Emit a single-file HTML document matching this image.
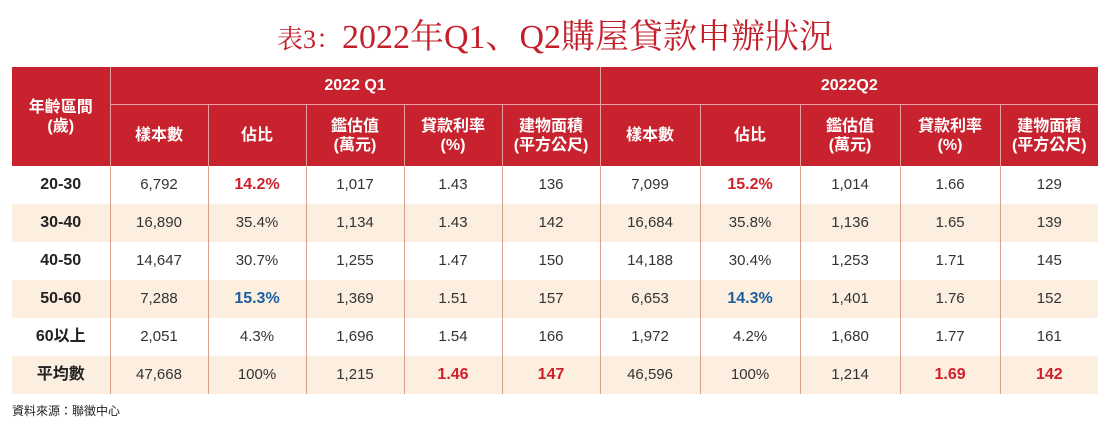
<!DOCTYPE html>
<html><head><meta charset="utf-8">
<style>
body{margin:0;width:1110px;height:430px;background:#fff;position:relative;overflow:hidden;font-family:"Liberation Sans","Noto Sans CJK TC",sans-serif;}
.title{position:absolute;left:0;width:1110px;top:16px;text-align:center;color:#c3202b;font-family:"Liberation Serif","Noto Serif CJK SC",serif;font-size:34px;line-height:44px;}
.title small{font-size:26px;}
table{position:absolute;left:12px;top:67px;border-collapse:collapse;table-layout:fixed;width:1086px;}
th{background:#c8222e;color:#fff;font-weight:bold;font-size:16px;line-height:19px;border-left:1px solid #e8a0a0;padding:0;vertical-align:middle;}
th.top{height:37px;border-bottom:1px solid #e8a0a0;}
th.sub{height:61px;}
td{height:38px;padding:0;text-align:center;font-size:15px;line-height:20px;color:#333;border-left:1px solid #d9a18b;vertical-align:middle;}
td.lab{font-weight:bold;font-size:16px;color:#222;border-left:none;}
tr.alt td{background:#fcefe0;}
.r{color:#d0202c;font-weight:bold;font-size:16px;}
.b{color:#1f5fa0;font-weight:bold;font-size:16px;}
.src{position:absolute;left:12px;top:402px;font-size:12px;color:#222;}
</style></head><body>
<div class="title"><small>表3：</small>2022年Q1、Q2購屋貸款申辦狀況</div>
<table>
<colgroup><col style="width:98px"><col style="width:98px"><col style="width:98px"><col style="width:98px"><col style="width:98px"><col style="width:98px"><col style="width:100px"><col style="width:100px"><col style="width:100px"><col style="width:100px"><col style="width:98px"></colgroup>
<tr><th rowspan="2" style="border-left:none">年齡區間<br>(歲)</th><th colspan="5" class="top">2022 Q1</th><th colspan="5" class="top">2022Q2</th></tr>
<tr>
<th class="sub">樣本數</th><th class="sub">佔比</th><th class="sub">鑑估值<br>(萬元)</th><th class="sub">貸款利率<br>(%)</th><th class="sub">建物面積<br>(平方公尺)</th>
<th class="sub">樣本數</th><th class="sub">佔比</th><th class="sub">鑑估值<br>(萬元)</th><th class="sub">貸款利率<br>(%)</th><th class="sub">建物面積<br>(平方公尺)</th>
</tr>
<tr><td class="lab">20-30</td><td>6,792</td><td class="r">14.2%</td><td>1,017</td><td>1.43</td><td>136</td><td>7,099</td><td class="r">15.2%</td><td>1,014</td><td>1.66</td><td>129</td></tr>
<tr class="alt"><td class="lab">30-40</td><td>16,890</td><td>35.4%</td><td>1,134</td><td>1.43</td><td>142</td><td>16,684</td><td>35.8%</td><td>1,136</td><td>1.65</td><td>139</td></tr>
<tr><td class="lab">40-50</td><td>14,647</td><td>30.7%</td><td>1,255</td><td>1.47</td><td>150</td><td>14,188</td><td>30.4%</td><td>1,253</td><td>1.71</td><td>145</td></tr>
<tr class="alt"><td class="lab">50-60</td><td>7,288</td><td class="b">15.3%</td><td>1,369</td><td>1.51</td><td>157</td><td>6,653</td><td class="b">14.3%</td><td>1,401</td><td>1.76</td><td>152</td></tr>
<tr><td class="lab">60以上</td><td>2,051</td><td>4.3%</td><td>1,696</td><td>1.54</td><td>166</td><td>1,972</td><td>4.2%</td><td>1,680</td><td>1.77</td><td>161</td></tr>
<tr class="alt"><td class="lab">平均數</td><td>47,668</td><td>100%</td><td>1,215</td><td class="r">1.46</td><td class="r">147</td><td>46,596</td><td>100%</td><td>1,214</td><td class="r">1.69</td><td class="r">142</td></tr>
</table>
<div class="src">資料來源：聯徵中心</div>
</body></html>
